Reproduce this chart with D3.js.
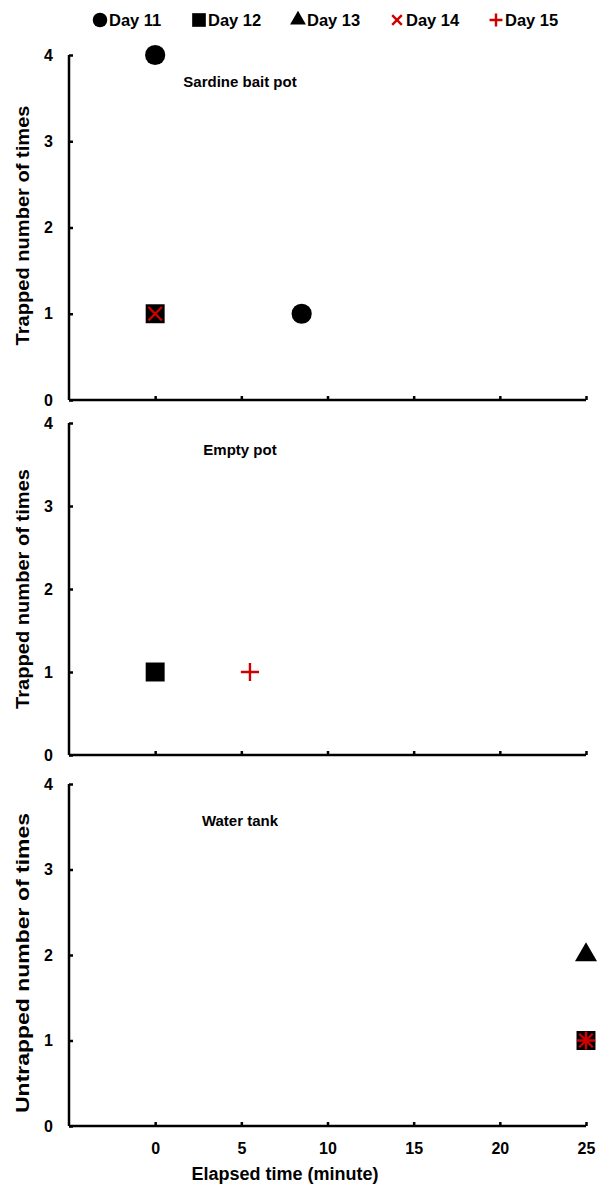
<!DOCTYPE html>
<html>
<head>
<meta charset="utf-8">
<script src="https://cdn.jsdelivr.net/npm/d3@7"></script>
<style>
  body { margin: 0; background: #fff; }
  svg { font-family: "Liberation Sans", Arial, sans-serif; font-weight: bold; }
  .axis path, .axis line { stroke: #000; stroke-width: 2.5; }
  .axis text { font-size: 16px; font-weight: bold; fill: #000; }
</style>
</head>
<body>
<svg width="601" height="1187"></svg>
<script>
const days = ["Day 11", "Day 12", "Day 13", "Day 14", "Day 15"]
const panelTitles = ["Sardine bait pot", "Empty pot", "Water tank"]
const yTitles = ["Trapped number of times", "Trapped number of times", "Untrapped number of times"]
const xTicks = [0, 5, 10, 15, 20, 25]
const yTicks = [0, 1, 2, 3, 4]

// points: [day, elapsed minute, count]
const sardinePoints = [["Day 11", 0, 4], ["Day 12", 0, 1], ["Day 14", 0, 1], ["Day 11", 8.5, 1]]
const emptyPoints = [["Day 12", 0, 1], ["Day 15", 5.5, 1]]
const tankPoints = [["Day 13", 25, 2], ["Day 12", 25, 1], ["Day 14", 25, 1], ["Day 15", 25, 1]]
const panelPoints = [sardinePoints, emptyPoints, tankPoints]

const svg = d3.select("svg")

const x = d3.scaleLinear().domain([-5, 25]).range([69, 586])
const panelRanges = [[400, 55], [755, 423], [1126, 784]]
// layout tweaks per panel: title offset from top, y-title length and shift
const titleOffset = [32, 32, 42]
const yTitleLength = [240, 240, 300]
const yTitleShift = [-2, 0, 8]

const markerFor = (day, scale) => {
  const s = scale || 1
  if (day == "Day 11") return {type: d3.symbolCircle, size: 320 * s * s, fill: "#000", stroke: "none"}
  if (day == "Day 12") return {type: d3.symbolSquare, size: 360 * s * s, fill: "#000", stroke: "none"}
  if (day == "Day 13") return {type: d3.symbolTriangle, size: 210 * s * s, fill: "#000", stroke: "none"}
  if (day == "Day 14") return {type: d3.symbolX, size: 120 * s * s, fill: "none", stroke: "#d00000"}
  return {type: d3.symbolPlus, size: 110 * s * s, fill: "none", stroke: "#d00000"}
}

const drawMarker = (g, day, cx, cy, scale) => {
  const m = markerFor(day, scale)
  g.append("path")
    .attr("d", d3.symbol().type(m.type).size(m.size)())
    .attr("transform", `translate(${cx},${cy})`)
    .attr("fill", m.fill)
    .attr("stroke", m.stroke)
    .attr("stroke-width", m.stroke == "none" ? 0 : 2.4)
}

panelTitles.forEach((title, i) => {
  const y = d3.scaleLinear().domain([0, 4]).range(panelRanges[i])
  const g = svg.append("g")

  g.append("g")
    .attr("class", "axis")
    .attr("transform", `translate(${x(-5)},0)`)
    .call(d3.axisLeft(y).tickValues(yTicks).tickSize(-4).tickPadding(16).tickFormat(d3.format("d")))
    .call(a => a.select(".domain").attr("d", `M0,${y(4)}V${y(0)}`))

  const xa = g.append("g")
    .attr("class", "axis")
    .attr("transform", `translate(0,${y(0)})`)
    .call(d3.axisBottom(x).tickValues(xTicks).tickSize(-4).tickPadding(17))
    .call(a => a.select(".domain").attr("d", `M${x(-5)},0H${x(25)}`))
  if (i < 2) xa.selectAll("text").remove()

  g.append("text")
    .attr("x", 240)
    .attr("y", y(4) + titleOffset[i])
    .attr("text-anchor", "middle")
    .style("font-size", "15px")
    .text(title)

  g.append("text")
    .attr("transform", `translate(29,${(y(0) + y(4)) / 2 + yTitleShift[i]}) rotate(-90)`)
    .attr("text-anchor", "middle")
    .attr("textLength", yTitleLength[i])
    .attr("lengthAdjust", "spacingAndGlyphs")
    .style("font-size", "19px")
    .text(yTitles[i])

  panelPoints[i].forEach(p => drawMarker(g, p[0], x(p[1]), y(p[2])))
})

svg.append("text")
  .attr("x", 285)
  .attr("y", 1180)
  .attr("text-anchor", "middle")
  .style("font-size", "18px")
  .text("Elapsed time (minute)")

const legendX = d3.scalePoint().domain(days).range([100, 496])
const legend = svg.append("g")
days.forEach(day => {
  drawMarker(legend, day, legendX(day), 20, 0.72)
  legend.append("text")
    .attr("x", legendX(day) + 9)
    .attr("y", 26)
    .style("font-size", "16.5px")
    .text(day)
})
</script>
</body>
</html>
